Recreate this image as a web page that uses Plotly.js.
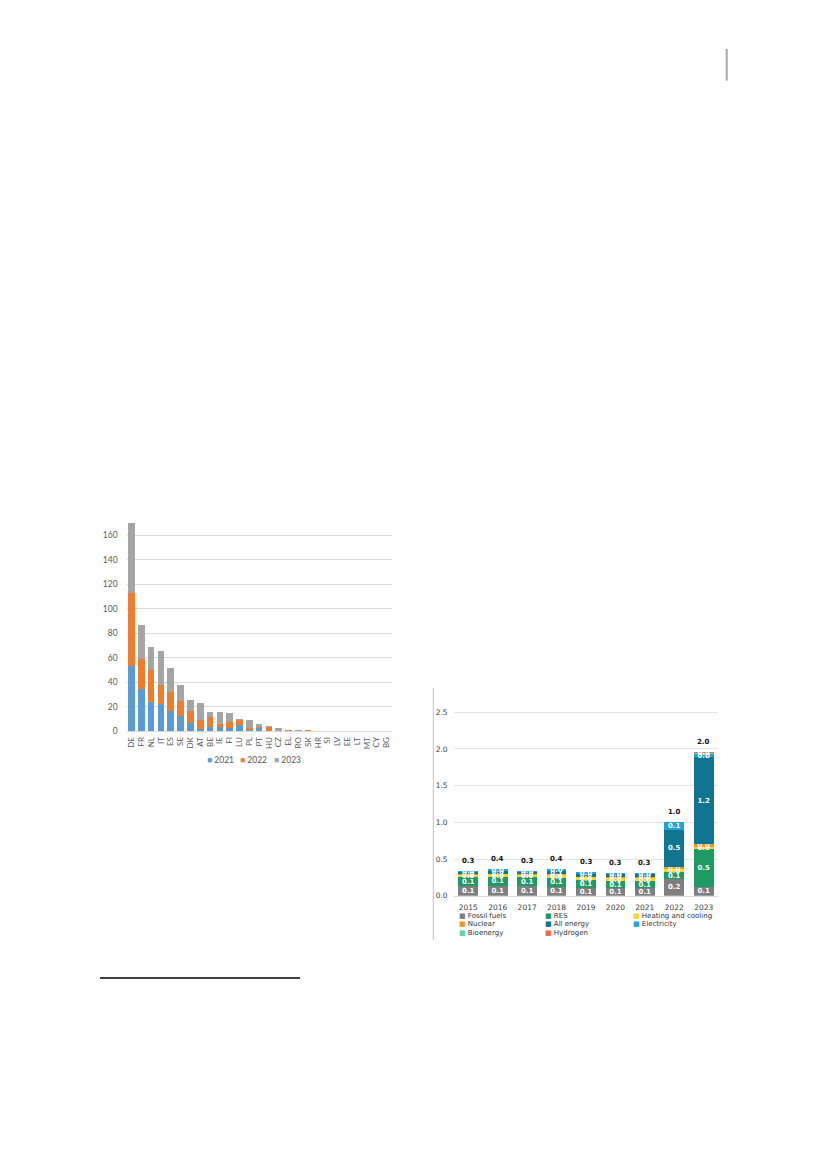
<!DOCTYPE html>
<html><head><meta charset="utf-8">
<script src="https://cdn.plot.ly/plotly-3.0.1.min.js"></script>
<style>html,body{margin:0;padding:0;background:#fff}#chart{width:827px;height:1169px}</style>
</head><body><div id="chart"></div><script>
// ---- Left chart data (by country) ----
const countries = ['DE','FR','NL','IT','ES','SE','DK','AT','BE','IE','FI','LU','PL','PT','HU','CZ','EL','RO','SK','HR','SI','LV','EE','LT','MT','CY','BG'];
const v2021 = [53,35,24,22,17,13,7,2,3.5,4,3,5.5,1.5,2.5,0.5,0.2,0.8,0.3,0.1,0.1,0.1,0.1,0.1,0,0,0,0];
const v2022 = [60,24,26,15.5,15,12,10,7.5,8,2.5,5,4,1,1,3,0.4,0.1,0.2,0.8,0,0,0,0,0,0,0,0];
const v2023 = [57,28,19,28,20,13,9,14,4,9,7,0.5,6.5,2.5,0.7,2,0.2,0.5,0.1,0.6,0.6,0.7,0.2,0.1,0,0,0];
const leftSeriesNames = ['2021','2022','2023'];
const leftTicks = [0,20,40,60,80,100,120,140,160];

// ---- Right chart data (by year) ----
const years = ['2015','2016','2017','2018','2019','2020','2021','2022','2023'];
const fossilFuels = [0.13,0.13,0.13,0.12,0.11,0.10,0.10,0.23,0.12];
const res         = [0.12,0.13,0.12,0.12,0.10,0.10,0.10,0.09,0.51];
const heating     = [0.03,0.03,0.03,0.04,0.04,0.04,0.04,0.04,0.03];
const nuclear     = [0.01,0.01,0.01,0.01,0.01,0.02,0.02,0.03,0.04];
const allEnergy   = [0.03,0.04,0.03,0.05,0.04,0.03,0.03,0.51,1.19];
const electricity = [0.02,0.03,0.02,0.02,0.02,0.02,0.02,0.10,0.04];
const bioenergy   = [0,0,0,0,0,0,0,0,0.02];
const hydrogen    = [0,0,0,0,0,0,0,0,0.01];
const rightSeriesNames = ['Fossil fuels','RES','Heating and cooling','Nuclear','All energy','Electricity','Bioenergy','Hydrogen'];
const rightTicks = [0,0.5,1.0,1.5,2.0,2.5];

// ---- styles ----
const W = 827, H = 1169;
const px = x => x / W;
const py = y => 1 - y / H;
const leftColors = ['#5B9BD5','#ED7D31','#A5A5A5'];
const rightColors = ['#7F7F7F','#1E9A63','#FFD42A','#F7941D','#0F7591','#22A2DA','#57D9A3','#F0683A'];

const traces = [];
[v2021, v2022, v2023].forEach((vals, i) => {
  traces.push({
    type: 'bar', x: countries, y: vals, name: leftSeriesNames[i],
    marker: {color: leftColors[i]}, xaxis: 'x', yaxis: 'y', showlegend: false, hoverinfo: 'skip'
  });
});
const rightSeries = [fossilFuels, res, heating, nuclear, allEnergy, electricity, bioenergy, hydrogen];
rightSeries.forEach((vals, i) => {
  traces.push({
    type: 'bar', x: years, y: vals, name: rightSeriesNames[i],
    marker: {color: rightColors[i]}, xaxis: 'x2', yaxis: 'y2', showlegend: false, hoverinfo: 'skip',
    text: vals.map(v => v > 0 ? v.toFixed(1) : ''),
    textposition: 'inside', insidetextanchor: 'middle', constraintext: 'none',
    textfont: {color: '#ffffff', size: 7, family: 'DejaVu Sans', weight: 'bold'}
  });
});

const totals = years.map((_, j) => rightSeries.reduce((s, arr) => s + arr[j], 0));

const annotations = [];
totals.forEach((t, j) => {
  annotations.push({
    xref: 'x2', yref: 'y2', x: j, y: t, text: t.toFixed(1), showarrow: false,
    yanchor: 'bottom', yshift: 4, font: {family: 'DejaVu Sans', size: 7, color: '#111', weight: 'bold'}
  });
});
// left legend
const leftLegX = [205, 238, 272];
leftSeriesNames.forEach((n, i) => {
  annotations.push({
    xref: 'paper', yref: 'paper', x: px(leftLegX[i]), y: py(760), xanchor: 'left', yanchor: 'middle',
    showarrow: false, text: '<span style="color:' + leftColors[i] + '">■</span> ' + n,
    font: {family: 'Lato', size: 8.5, color: '#595959'}
  });
});
// right legend (3 columns)
const colX = [457, 543, 631];
const rowY = [915.7, 924.2, 932.7];
rightSeriesNames.forEach((n, i) => {
  annotations.push({
    xref: 'paper', yref: 'paper', x: px(colX[i % 3]), y: py(rowY[Math.floor(i / 3)]), xanchor: 'left', yanchor: 'middle',
    showarrow: false, text: '<span style="color:' + rightColors[i] + '">■</span> ' + n,
    font: {family: 'DejaVu Sans', size: 7, color: '#333'}
  });
});

const shapes = [
  {type: 'line', xref: 'paper', yref: 'paper', x0: px(726.7), x1: px(726.7), y0: py(49), y1: py(80.7), line: {color: '#A6A6A6', width: 2}},
  {type: 'line', xref: 'paper', yref: 'paper', x0: px(100), x1: px(300), y0: py(978), y1: py(978), line: {color: '#000', width: 1.5}},
  {type: 'line', xref: 'paper', yref: 'paper', x0: px(433.3), x1: px(433.3), y0: py(688), y1: py(940), line: {color: '#C4C4C4', width: 1}}
];

const layout = {
  width: W, height: H, margin: {l: 0, r: 0, t: 0, b: 0},
  paper_bgcolor: '#fff', plot_bgcolor: 'rgba(0,0,0,0)',
  barmode: 'stack', bargap: 0.33, showlegend: false,
  xaxis: {
    domain: [px(126.6), px(391.6)], anchor: 'y', type: 'category', tickangle: -90,
    range: [-0.5, countries.length - 0.5], tickmode: 'array', tickvals: countries, ticktext: countries,
    tickfont: {family: 'Lato', size: 8, color: '#595959'}, showgrid: false, showline: false, ticks: '',
    ticklabelstandoff: 3
  },
  yaxis: {
    domain: [py(731.5), py(520.3)], anchor: 'x', range: [0, 172], tickvals: leftTicks,
    tickfont: {family: 'Lato', size: 8.5, color: '#595959'}, gridcolor: '#D9D9D9', gridwidth: 1,
    zeroline: true, zerolinecolor: '#D9D9D9', showline: false, ticks: '', ticklabelstandoff: 8
  },
  xaxis2: {
    domain: [px(453.6), px(718.4)], anchor: 'y2', type: 'category',
    range: [-0.5, years.length - 0.5], tickmode: 'array', tickvals: years, ticktext: years,
    tickfont: {family: 'DejaVu Sans', size: 7.5, color: '#404040'}, showgrid: false,
    showline: true, linecolor: '#D9D9D9', linewidth: 1, ticks: '', ticklabelstandoff: 4
  },
  yaxis2: {
    domain: [py(895.7), py(704.9)], anchor: 'x2', range: [0, 2.6], tickvals: rightTicks, tickformat: '.1f',
    tickfont: {family: 'DejaVu Sans', size: 7.5, color: '#404040'}, gridcolor: '#E3E3E3', gridwidth: 1,
    zeroline: false, showline: false, ticks: '', ticklabelstandoff: 5
  },
  annotations: annotations, shapes: shapes
};

Plotly.newPlot('chart', traces, layout, {staticPlot: true, displayModeBar: false});
</script></body></html>
